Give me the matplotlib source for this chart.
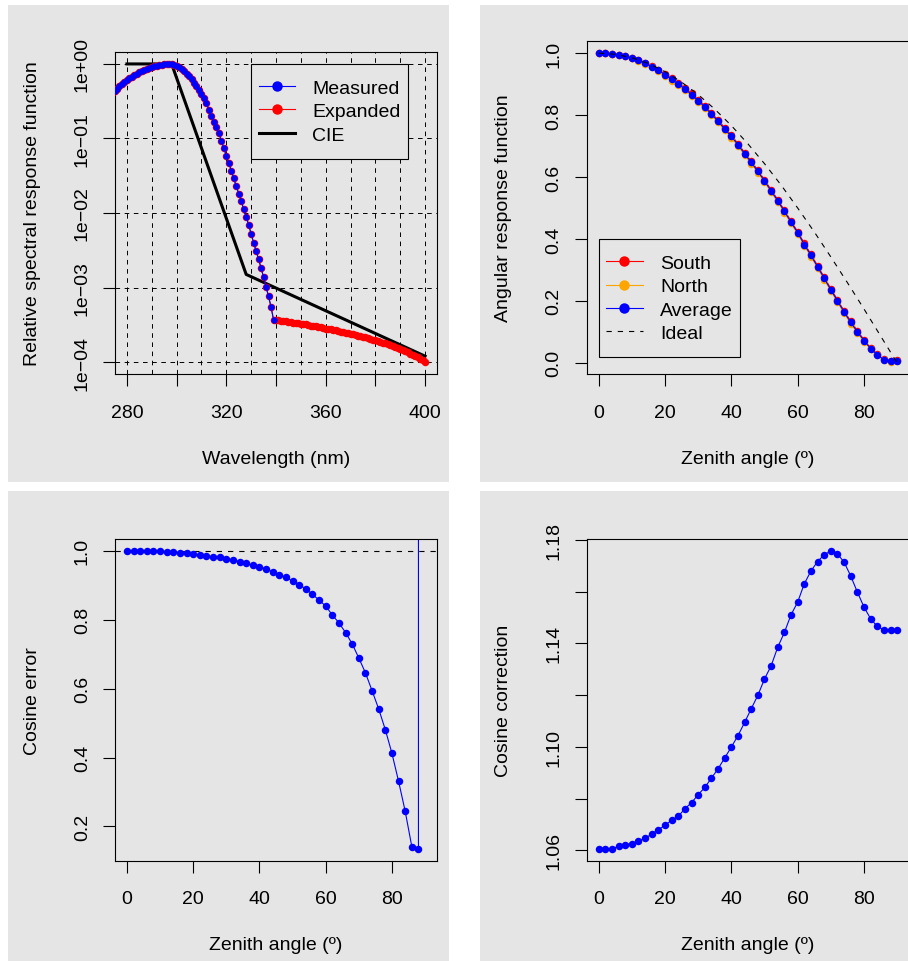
import matplotlib
matplotlib.use("Agg")
import matplotlib.pyplot as plt
import numpy as np
from matplotlib.lines import Line2D
from matplotlib.patches import Rectangle
from matplotlib.path import Path

plt.rcParams["font.family"] = ["Liberation Sans", "DejaVu Sans"]
plt.rcParams["font.size"] = 14
plt.rcParams["lines.scale_dashes"] = False

# -----------------------------
# Data
# -----------------------------
# spectral response, log10 of relative value, 1 nm steps
wl_meas = list(range(274, 340))
meas_log = [
    -0.39, -0.36, -0.33, -0.30, -0.27, -0.245, -0.22, -0.195, -0.17, -0.15,
    -0.13, -0.11, -0.095, -0.08, -0.065, -0.052, -0.042, -0.032, -0.023, -0.015,
    -0.009, -0.004, -0.001, 0.0, -0.002, -0.01, -0.025, -0.045, -0.07, -0.10,
    -0.13, -0.165, -0.205, -0.25, -0.295, -0.345, -0.40, -0.46, -0.53, -0.615,
    -0.70, -0.775, -0.84, -0.93, -1.03, -1.13, -1.23, -1.33, -1.43, -1.535,
    -1.64, -1.74, -1.84, -1.95, -2.05, -2.16, -2.28, -2.40, -2.51, -2.62,
    -2.74, -2.86, -2.99, -3.12, -3.26, -3.43,
]
wl_tail = list(range(340, 401))
tail_log = [
    -3.435, -3.44, -3.445, -3.45, -3.455, -3.46, -3.465, -3.47, -3.475, -3.48,
    -3.485, -3.49, -3.495, -3.50, -3.51, -3.515, -3.52, -3.53, -3.535, -3.54,
    -3.55, -3.555, -3.56, -3.57, -3.575, -3.585, -3.59, -3.60, -3.605, -3.615,
    -3.62, -3.63, -3.64, -3.645, -3.655, -3.665, -3.67, -3.68, -3.69, -3.70,
    -3.71, -3.72, -3.73, -3.74, -3.75, -3.76, -3.77, -3.785, -3.795, -3.81,
    -3.82, -3.84, -3.855, -3.87, -3.885, -3.90, -3.915, -3.935, -3.955, -3.975,
    -4.0,
]
cie_wl = [280, 298, 328, 400]
cie_val = [1.0, 1.0, 1.5e-3, 1.2e-4]

wl_ticks = [280, 300, 320, 340, 360, 380, 400]
wl_labels = ["280", "", "320", "", "360", "", "400"]
wl_grid = [290, 310, 330, 350, 370, 390]
dec_ticks = [1e-4, 1e-3, 1e-2, 1e-1, 1e0]
dec_labels = ["1e\u221204", "1e\u221203", "1e\u221202", "1e\u221201", "1e+00"]

# angular response
zenith = [0, 2, 4, 6, 8, 10, 12, 14, 16, 18, 20, 22, 24, 26, 28, 30, 32, 34,
          36, 38, 40, 42, 44, 46, 48, 50, 52, 54, 56, 58, 60, 62, 64, 66, 68,
          70, 72, 74, 76, 78, 80, 82, 84, 86, 88, 90]
south = [1.000, 0.999, 0.998, 0.995, 0.989, 0.985, 0.978, 0.969, 0.958, 0.946,
         0.933, 0.919, 0.904, 0.888, 0.870, 0.850, 0.830, 0.807, 0.784, 0.759,
         0.735, 0.708, 0.679, 0.651, 0.622, 0.591, 0.559, 0.527, 0.493, 0.458,
         0.424, 0.386, 0.351, 0.314, 0.277, 0.240, 0.204, 0.168, 0.135, 0.104,
         0.075, 0.048, 0.028, 0.011, 0.006, 0.008]
north = [1.000, 0.999, 0.998, 0.995, 0.989, 0.983, 0.974, 0.965, 0.954, 0.942,
         0.927, 0.911, 0.896, 0.880, 0.862, 0.842, 0.822, 0.799, 0.776, 0.751,
         0.727, 0.700, 0.671, 0.643, 0.614, 0.583, 0.551, 0.519, 0.485, 0.450,
         0.416, 0.378, 0.343, 0.306, 0.269, 0.232, 0.196, 0.160, 0.127, 0.096,
         0.069, 0.044, 0.024, 0.009, 0.004, 0.007]
ideal_zen = [0, 5, 10, 15, 20, 25, 30, 35, 40, 45, 50, 55, 60, 65, 70, 75, 80, 85, 90]
ideal_val = [1.0, 0.996, 0.985, 0.966, 0.940, 0.906, 0.866, 0.819, 0.766, 0.707,
             0.643, 0.574, 0.5, 0.423, 0.342, 0.259, 0.174, 0.087, 0.0]

cos_err = [1.000, 1.000, 1.000, 1.000, 0.999, 0.999, 0.998, 0.997, 0.995, 0.993,
           0.990, 0.987, 0.985, 0.983, 0.981, 0.977, 0.974, 0.969, 0.964, 0.958,
           0.954, 0.948, 0.939, 0.931, 0.923, 0.913, 0.902, 0.889, 0.874, 0.857,
           0.840, 0.814, 0.791, 0.763, 0.730, 0.689, 0.646, 0.594, 0.541, 0.481,
           0.412, 0.331, 0.244, 0.141, 0.135, np.inf]

cos_corr = [1.0606, 1.0606, 1.0606, 1.0615, 1.0622, 1.0626, 1.0636, 1.0646, 1.0663, 1.0679,
            1.0697, 1.0716, 1.0731, 1.0761, 1.0784, 1.0815, 1.0843, 1.0879, 1.0915, 1.0957,
            1.0999, 1.1043, 1.1094, 1.1147, 1.1199, 1.1262, 1.1313, 1.1385, 1.1442, 1.1510,
            1.1559, 1.1630, 1.1679, 1.1716, 1.1742, 1.1757, 1.1745, 1.1714, 1.1660, 1.1598,
            1.1540, 1.1495, 1.1465, 1.1452, 1.1450, 1.1450]

zen_ticks = [0, 20, 40, 60, 80]
resp_ticks = [0.0, 0.2, 0.4, 0.6, 0.8, 1.0]
err_ticks = [0.2, 0.4, 0.6, 0.8, 1.0]
corr_ticks = [1.06, 1.08, 1.10, 1.12, 1.14, 1.16, 1.18]
corr_labels = ["1.06", "", "1.10", "", "1.14", "", "1.18"]

XLAB = "Zenith angle (\u00ba)"
PANEL = "#e5e5e5"
W, H = 908, 962
DASH = (0, (3.8, 4.3))
MS = 5.4       # point markers in the zenith plots
LEG_MS = 7.5   # legend markers
LEG_EXT = 8    # extra vertical padding of legend boxes, px


def px_rect(x0, y0, x1, y1):
    return [x0 / W, 1 - y1 / H, (x1 - x0) / W, (y1 - y0) / H]


def r_range(vals):
    lo, hi = np.min(vals), np.max(vals)
    d = 0.04 * (hi - lo)
    return lo - d, hi + d


def tall_box(x0, y0, width, height, mutation_size):
    # square frame with more room above and below than at the sides (R-like)
    e = LEG_EXT
    verts = [(x0, y0 - e), (x0 + width, y0 - e), (x0 + width, y0 + height + e),
             (x0, y0 + height + e), (x0, y0 - e)]
    return Path(verts, closed=True)


def style(ax, xlabel, ylabel, h):
    ax.set_facecolor(PANEL)
    for s in ax.spines.values():
        s.set_linewidth(0.8)
    ax.tick_params(which="major", direction="out", length=8.4, width=0.8, labelsize=14)
    ax.tick_params(axis="x", pad=13)
    ax.tick_params(axis="y", pad=8.9)
    ax.set_xlabel(xlabel, fontsize=14, va="center")
    ax.xaxis.set_label_coords(0.5, -84 / h)
    ax.set_ylabel(ylabel, fontsize=14, va="center")
    ax.yaxis.set_label_coords(-83 / 322, 0.5)


def r_legend(ax, handles, labels, **kw):
    leg = ax.legend(handles, labels, borderaxespad=0, fancybox=False,
                    edgecolor="black", facecolor=PANEL, framealpha=1, fontsize=14,
                    handlelength=1.86, handletextpad=0.9, borderpad=0.38,
                    labelspacing=0.29, **kw)
    leg.get_frame().set_linewidth(0.8)
    leg.get_frame().set_boxstyle(tall_box)
    leg.set_zorder(10)
    return leg


fig = plt.figure(figsize=(W / 100, H / 100), dpi=100, facecolor="white")
for x0, y0, x1, y1 in [(8, 6, 449, 482.7), (480, 6, 921, 482.7),
                       (8, 492, 449, 962), (480, 492, 921, 962)]:
    fig.add_artist(Rectangle((x0 / W, 1 - y1 / H), (x1 - x0) / W, (y1 - y0) / H,
                             transform=fig.transFigure, facecolor=PANEL,
                             edgecolor="none", zorder=-10))

# -----------------------------
# Spectral response
# -----------------------------
ax1 = fig.add_axes(px_rect(115, 53, 437, 375))
meas = 10 ** np.array(meas_log)
expanded = 10 ** np.array(meas_log + tail_log)
wl_exp = wl_meas + wl_tail
ax1.plot(cie_wl, cie_val, color="black", lw=2.2, zorder=3)
ax1.plot(wl_exp, expanded, color="red", lw=0.8, marker="o", ms=5.4, mew=0, zorder=4)
ax1.plot(wl_meas, meas, color="blue", lw=0.8, marker="o", ms=4.6, mew=0, zorder=5)
ax1.set_yscale("log")
ax1.set_xlim(275.2, 404.8)
ax1.set_ylim(10 ** -4.16, 10 ** 0.16)
ax1.set_xticks(wl_ticks, wl_labels)
ax1.set_xticks(wl_grid, minor=True)
ax1.tick_params(axis="x", which="minor", length=0)
ax1.yaxis.set_minor_locator(matplotlib.ticker.NullLocator())
ax1.set_yticks(dec_ticks, dec_labels, rotation=90, va="center")
ax1.grid(True, which="both", color="black", lw=0.7, linestyle=(0, (3.3, 3.3)), zorder=1)
style(ax1, "Wavelength (nm)", "Relative spectral response function", 322)
h1 = [Line2D([], [], color="blue", lw=0.8, marker="o", ms=LEG_MS, mew=0),
      Line2D([], [], color="red", lw=0.8, marker="o", ms=LEG_MS, mew=0),
      Line2D([], [], color="black", lw=2.2)]
r_legend(ax1, h1, ["Measured", "Expanded", "CIE"], loc="upper right",
         bbox_to_anchor=((408 - 115) / 322, (375 - 65 - LEG_EXT) / 322))

# -----------------------------
# Angular response
# -----------------------------
ax2 = fig.add_axes(px_rect(586.7, 41.7, 909.1, 375))
average = (np.array(south) + np.array(north)) / 2
ax2.plot(zenith, south, color="red", lw=0.8, marker="o", ms=MS, mew=0)
ax2.plot(zenith, north, color="orange", lw=0.8, marker="o", ms=MS, mew=0)
ax2.plot(zenith, average, color="blue", lw=0.8, marker="o", ms=MS, mew=0)
ax2.plot(ideal_zen, ideal_val, color="black", lw=0.8, linestyle=DASH)
ax2.set_xlim(-3.6, 93.6)
ax2.set_ylim(*r_range(north))
ax2.set_xticks(zen_ticks)
ax2.set_yticks(resp_ticks, [f"{v:.1f}" for v in resp_ticks], rotation=90, va="center")
style(ax2, XLAB, "Angular response function", 333.3)
h2 = [Line2D([], [], color="red", lw=0.8, marker="o", ms=LEG_MS, mew=0),
      Line2D([], [], color="orange", lw=0.8, marker="o", ms=LEG_MS, mew=0),
      Line2D([], [], color="blue", lw=0.8, marker="o", ms=LEG_MS, mew=0),
      Line2D([], [], color="black", lw=0.8, linestyle=DASH)]
r_legend(ax2, h2, ["South", "North", "Average", "Ideal"], loc="lower left",
         bbox_to_anchor=((599 - 586.7) / 322, (375 - 358.3 + LEG_EXT) / 333.3))

# -----------------------------
# Cosine error
# -----------------------------
ax3 = fig.add_axes(px_rect(115, 540, 437, 861.7))
err = np.array(cos_err)
finite = err[np.isfinite(err)]
# like R, an infinite value gives a segment leaving the plot
err_draw = np.where(np.isinf(err), 1e9, err)
ax3.axhline(1.0, color="black", lw=0.8, linestyle=DASH)
ax3.plot(zenith, err_draw, color="blue", lw=0.8, marker="o", ms=MS, mew=0)
ax3.set_xlim(-3.6, 93.6)
ax3.set_ylim(*r_range(finite))
ax3.set_xticks(zen_ticks)
ax3.set_yticks(err_ticks, [f"{v:.1f}" for v in err_ticks], rotation=90, va="center")
style(ax3, XLAB, "Cosine error", 321.7)

# -----------------------------
# Cosine correction
# -----------------------------
ax4 = fig.add_axes(px_rect(586.7, 540, 909.1, 861.7))
ax4.plot(zenith, cos_corr, color="blue", lw=0.8, marker="o", ms=MS, mew=0)
ax4.set_xlim(-3.6, 93.6)
ax4.set_ylim(*r_range(cos_corr))
ax4.set_xticks(zen_ticks)
ax4.set_yticks(corr_ticks, corr_labels, rotation=90, va="center")
style(ax4, XLAB, "Cosine correction", 321.7)

fig.savefig("out.png", dpi=100, facecolor="white")
